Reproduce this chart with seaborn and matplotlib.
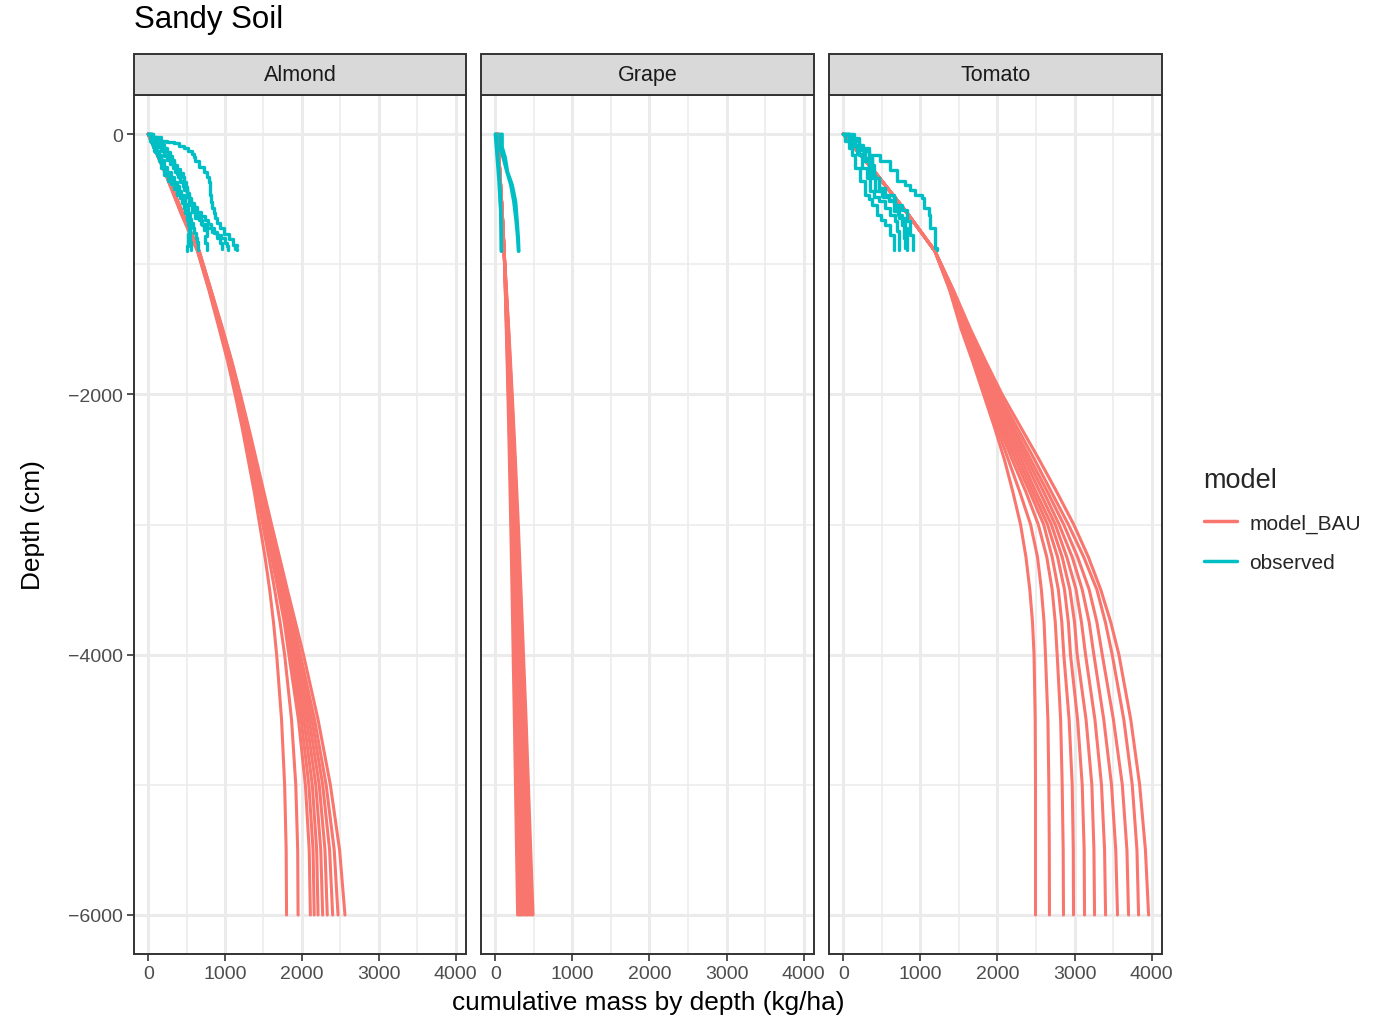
import numpy as np
import pandas as pd
import matplotlib
matplotlib.use("Agg")
import matplotlib.pyplot as plt
import seaborn as sns
from matplotlib.lines import Line2D
from matplotlib.patches import Rectangle

# ---------------- data ----------------
CROPS = ["Almond", "Grape", "Tomato"]
MODEL_DEPTH = [0, -300, -600, -900, -1200, -1500, -1750, -2000, -2250, -2500, -2750,
               -3000, -3250, -3500, -3750, -4000, -4500, -5000, -5500, -6000]

ALMOND_MODEL = [
    [0, 220, 420, 640, 790, 925, 1035, 1130, 1220, 1300, 1380, 1450, 1520, 1580, 1630, 1671, 1735, 1775, 1795, 1800],
    [0, 225, 425, 645, 795, 935, 1045, 1145, 1240, 1325, 1410, 1490, 1570, 1645, 1715, 1775, 1865, 1920, 1945, 1950],
    [0, 225, 430, 650, 800, 940, 1055, 1155, 1250, 1340, 1430, 1515, 1605, 1690, 1770, 1830, 1955, 2045, 2095, 2110],
    [0, 225, 430, 650, 800, 945, 1060, 1160, 1258, 1350, 1440, 1530, 1620, 1705, 1785, 1855, 1990, 2090, 2145, 2160],
    [0, 230, 432, 652, 805, 950, 1065, 1165, 1265, 1360, 1450, 1540, 1635, 1720, 1800, 1880, 2025, 2135, 2192, 2210],
    [0, 230, 435, 655, 808, 955, 1070, 1172, 1272, 1370, 1460, 1552, 1650, 1735, 1820, 1905, 2060, 2180, 2245, 2270],
    [0, 232, 437, 658, 810, 958, 1075, 1178, 1280, 1378, 1470, 1565, 1662, 1752, 1840, 1930, 2095, 2225, 2300, 2330],
    [0, 232, 440, 660, 812, 962, 1080, 1185, 1288, 1386, 1480, 1578, 1676, 1770, 1862, 1955, 2130, 2270, 2360, 2400],
    [0, 235, 442, 662, 815, 965, 1085, 1192, 1296, 1395, 1492, 1590, 1690, 1790, 1885, 1980, 2165, 2315, 2420, 2470],
    [0, 235, 445, 665, 818, 970, 1090, 1200, 1305, 1405, 1505, 1605, 1708, 1810, 1915, 2020, 2210, 2370, 2490, 2560],
]
GRAPE_MODEL = [
    [30, 60, 90, 115, 130, 143, 154, 164, 174, 183, 192, 201, 209, 217, 225, 232, 248, 262, 276, 290],
    [30, 60, 90, 115, 131, 146, 158, 170, 181, 191, 201, 211, 220, 228, 237, 246, 263, 279, 294, 310],
    [30, 60, 90, 115, 132, 149, 162, 175, 187, 199, 210, 220, 230, 240, 250, 259, 278, 296, 313, 330],
    [30, 60, 90, 115, 134, 153, 167, 181, 194, 207, 219, 230, 241, 251, 262, 272, 294, 312, 331, 350],
    [30, 60, 90, 115, 136, 157, 173, 188, 202, 216, 229, 242, 254, 266, 278, 289, 313, 333, 354, 375],
    [30, 60, 90, 115, 138, 161, 178, 195, 211, 226, 241, 255, 268, 280, 293, 306, 332, 354, 377, 400],
    [30, 60, 90, 115, 140, 164, 182, 200, 217, 234, 249, 264, 278, 292, 306, 319, 347, 371, 396, 420],
    [30, 60, 90, 115, 142, 168, 188, 207, 226, 244, 261, 277, 292, 306, 321, 336, 366, 392, 419, 445],
    [30, 60, 90, 115, 144, 172, 193, 214, 234, 253, 271, 289, 305, 321, 337, 353, 385, 413, 442, 470],
    [30, 60, 90, 115, 145, 175, 198, 220, 241, 261, 280, 299, 316, 333, 350, 366, 400, 430, 460, 490],
]
TOMATO_MODEL = [
    [0, 420, 820, 1190, 1380, 1530, 1680, 1820, 1960, 2090, 2200, 2300, 2370, 2420, 2455, 2475, 2490, 2494, 2494, 2494],
    [0, 420, 820, 1190, 1385, 1540, 1695, 1840, 1990, 2140, 2290, 2430, 2520, 2570, 2605, 2623, 2655, 2667, 2673, 2675],
    [0, 420, 820, 1190, 1390, 1550, 1710, 1860, 2020, 2190, 2370, 2530, 2640, 2710, 2750, 2775, 2820, 2840, 2853, 2857],
    [0, 420, 820, 1190, 1395, 1560, 1725, 1880, 2050, 2230, 2420, 2600, 2710, 2790, 2835, 2861, 2930, 2970, 2984, 2987],
    [0, 420, 820, 1190, 1400, 1570, 1740, 1900, 2080, 2270, 2460, 2650, 2780, 2870, 2920, 2948, 3040, 3100, 3125, 3130],
    [0, 420, 820, 1190, 1405, 1580, 1755, 1920, 2110, 2310, 2500, 2700, 2840, 2940, 3000, 3035, 3150, 3225, 3252, 3260],
    [0, 420, 820, 1190, 1410, 1590, 1770, 1945, 2145, 2350, 2550, 2750, 2900, 3020, 3090, 3143, 3265, 3350, 3390, 3403],
    [0, 420, 820, 1190, 1415, 1600, 1785, 1970, 2180, 2390, 2600, 2800, 2970, 3100, 3190, 3251, 3380, 3480, 3535, 3558],
    [0, 420, 820, 1190, 1420, 1610, 1800, 1995, 2210, 2430, 2650, 2860, 3040, 3190, 3290, 3360, 3505, 3620, 3680, 3701],
    [0, 420, 820, 1190, 1425, 1625, 1820, 2025, 2250, 2480, 2700, 2920, 3120, 3290, 3400, 3489, 3640, 3749, 3810, 3831],
    [0, 420, 820, 1190, 1430, 1650, 1850, 2060, 2300, 2540, 2770, 2990, 3180, 3340, 3470, 3576, 3730, 3845, 3920, 3961],
]

ALMOND_OBS_X = [
    [0, 60, 160, 240, 330, 400, 460, 520, 570, 600, 610, 660, 720, 760, 785, 800, 805, 815, 827, 850, 870, 900, 935, 990, 1045, 1100, 1150, 1130, 1160],
    [0, 60, 110, 160, 200, 260, 305, 340, 370, 420, 460, 500, 525, 570, 610, 690, 760, 830, 890, 950, 1000, 1030, 1040],
    [0, 26, 80, 134, 170, 199, 260, 329, 380, 437, 470, 502, 530, 545, 535, 524, 515, 502],
    [0, 50, 90, 120, 160, 200, 250, 300, 340, 380, 400, 430, 460, 480, 500, 520, 540, 560, 580, 600, 620, 640, 654],
    [0, 40, 80, 120, 160, 200, 240, 280, 320, 350, 390, 420, 450, 470, 500, 530, 560, 590, 620, 660, 700, 730, 760, 740, 762],
    [0, 50, 100, 150, 200, 240, 280, 310, 340, 380, 420, 450, 470, 490, 510, 530, 560, 600, 640, 690, 740, 780, 820, 860, 900, 930, 957],
    [0, 40, 65, 90, 125, 160, 195, 230, 265, 300, 340, 380, 410, 440, 460, 480, 500, 520, 530, 540, 550, 560],
]
ALMOND_OBS_D = [
    [0, -20, -50, -60, -70, -90, -110, -130, -150, -180, -210, -250, -290, -330, -365, -410, -465, -520, -570, -610, -645, -680, -720, -770, -810, -850, -860, -880, -890],
    [0, -50, -90, -120, -160, -185, -210, -260, -310, -360, -415, -480, -545, -600, -645, -690, -720, -750, -775, -800, -835, -860, -890],
    [0, -56, -130, -210, -260, -312, -360, -415, -470, -517, -570, -620, -670, -722, -770, -824, -860, -900],
    [0, -80, -120, -160, -200, -250, -290, -330, -370, -400, -440, -470, -500, -540, -570, -610, -650, -680, -720, -760, -800, -830, -890],
    [0, -30, -60, -100, -130, -170, -200, -230, -260, -290, -330, -370, -400, -430, -470, -500, -540, -580, -620, -660, -700, -740, -780, -840, -890],
    [0, -20, -40, -80, -110, -140, -170, -200, -240, -270, -300, -330, -370, -410, -450, -490, -530, -560, -600, -630, -660, -690, -720, -760, -800, -840, -880],
    [0, -60, -100, -140, -180, -220, -260, -300, -340, -380, -420, -450, -490, -530, -570, -610, -660, -700, -740, -780, -830, -890],
]
GRAPE_OBS_X = [
    [0, 20, 45, 60, 70, 75, 78],
    [90, 90, 130, 160, 220, 265, 285, 300, 307],
    [10, 25, 50, 65, 72, 78, 80],
    [60, 70, 110, 150, 200, 240, 270, 290, 300],
]
GRAPE_OBS_D = [
    [0, -150, -340, -500, -600, -750, -900],
    [0, -100, -180, -290, -390, -520, -670, -800, -900],
    [0, -120, -300, -450, -600, -750, -900],
    [0, -120, -200, -290, -390, -520, -670, -800, -900],
]
TOMATO_OBS_X = [
    [0, 69, 199, 329, 459, 481, 589, 610, 697, 697, 805, 870, 935, 1022, 1043, 1108, 1130, 1195, 1195, 1210],
    [0, 80, 156, 250, 329, 372, 394, 459, 545, 654, 675, 719, 762, 784, 805],
    [0, 26, 70, 112, 156, 221, 286, 330, 372, 437, 490, 545, 610, 654, 654],
    [0, 69, 130, 199, 243, 308, 351, 400, 459, 545, 610, 675, 697, 719, 727],
    [0, 90, 180, 264, 329, 416, 502, 589, 654, 710, 762, 805, 827, 827],
    [0, 134, 210, 286, 372, 459, 520, 589, 675, 762, 827, 870, 900],
]
TOMATO_OBS_D = [
    [0, -31, -108, -159, -159, -210, -210, -274, -274, -364, -389, -430, -466, -492, -568, -620, -722, -799, -876, -890],
    [0, -40, -82, -130, -171, -236, -338, -415, -466, -492, -568, -645, -696, -799, -876],
    [0, -56, -110, -159, -261, -364, -466, -500, -543, -620, -660, -696, -773, -824, -888],
    [0, -18, -90, -159, -261, -338, -440, -480, -517, -568, -620, -671, -747, -824, -888],
    [0, -90, -150, -210, -312, -440, -479, -517, -594, -620, -645, -722, -824, -888],
    [0, -56, -120, -184, -338, -440, -480, -504, -543, -581, -671, -773, -888],
]

X_TICKS = [0, 1000, 2000, 3000, 4000]
Y_TICKS = [0, -2000, -4000, -6000]
Y_TICK_LABELS = ["0", "\u22122000", "\u22124000", "\u22126000"]
LEGEND_LABELS = ["model_BAU", "observed"]

RED = "#F8766D"
TEAL = "#00BFC4"

# ---------------- build long tables ----------------
def model_frame(curves):
    rows = []
    for i, xs in enumerate(curves):
        for x, d in zip(xs, MODEL_DEPTH):
            rows.append({"x": x, "depth": d, "unit": i, "model": "model_BAU"})
    return pd.DataFrame(rows)

def obs_frame(xs_list, ds_list):
    rows = []
    for i, (xs, ds) in enumerate(zip(xs_list, ds_list)):
        for x, d in zip(xs, ds):
            rows.append({"x": x, "depth": d, "unit": i, "model": "observed"})
    return pd.DataFrame(rows)

model_frames = {
    "Almond": model_frame(ALMOND_MODEL),
    "Grape": model_frame(GRAPE_MODEL),
    "Tomato": model_frame(TOMATO_MODEL),
}
obs_frames = {
    "Almond": obs_frame(ALMOND_OBS_X, ALMOND_OBS_D),
    "Grape": obs_frame(GRAPE_OBS_X, GRAPE_OBS_D),
    "Tomato": obs_frame(TOMATO_OBS_X, TOMATO_OBS_D),
}
obs_style = {"Almond": "steps-post", "Grape": "default", "Tomato": "steps-post"}

# ---------------- figure ----------------
sns.set_theme(style="white")
plt.rcParams["font.family"] = ["Liberation Sans", "DejaVu Sans"]

W, H = 1380, 1020
fig = plt.figure(figsize=(W / 100, H / 100), dpi=100)

panel_px = [(134, 466), (481, 814), (829, 1162)]
top_px, bot_px = 96, 955
strip_top = 55

GRID_MAJ = "#EBEBEB"
DARK = "#333333"

for k, crop in enumerate(CROPS):
    l, r = panel_px[k]
    ax = fig.add_axes([l / W, 1 - bot_px / H, (r - l) / W, (bot_px - top_px) / H])
    ax.set_xlim(-185, 4135)
    ax.set_ylim(-6300, 300)
    ax.set_xticks(X_TICKS)
    ax.set_xticks([500, 1500, 2500, 3500], minor=True)
    ax.set_yticks(Y_TICKS)
    ax.set_yticks([-1000, -3000, -5000], minor=True)
    ax.grid(True, which="major", color=GRID_MAJ, lw=2.2)
    ax.grid(True, which="minor", color=GRID_MAJ, lw=1.1)
    ax.set_axisbelow(True)

    sns.lineplot(data=model_frames[crop], x="x", y="depth", units="unit",
                 estimator=None, sort=False, color=RED, lw=2.2, ax=ax,
                 legend=False)
    sns.lineplot(data=obs_frames[crop], x="x", y="depth", units="unit",
                 estimator=None, sort=False, color=TEAL, lw=2.4, ax=ax,
                 legend=False, drawstyle=obs_style[crop])

    ax.set_xlabel("")
    ax.set_ylabel("")
    ax.set_xticklabels([str(t) for t in X_TICKS])
    if k == 0:
        ax.set_yticklabels(Y_TICK_LABELS)
        ax.tick_params(axis="y", which="major", length=5, width=1.2,
                       color=DARK, labelsize=14, labelcolor="#4D4D4D", pad=3,
                       left=True)
    else:
        ax.tick_params(axis="y", which="both", left=False, labelleft=False)
    ax.tick_params(axis="x", which="major", length=5, width=1.2, color=DARK,
                   labelsize=14, labelcolor="#4D4D4D", pad=3, bottom=True)
    ax.tick_params(which="minor", length=0)
    for s in ax.spines.values():
        s.set_color(DARK)
        s.set_linewidth(1.4)

    # strip
    fig.patches.append(Rectangle((l / W, 1 - top_px / H), (r - l) / W,
                                 (top_px - strip_top) / H,
                                 transform=fig.transFigure, facecolor="#D9D9D9",
                                 edgecolor=DARK, lw=1.4, zorder=0))
    fig.text((l + r) / 2 / W, 1 - (top_px + strip_top) / 2 / H, crop,
             ha="center", va="center", fontsize=15.5, color="#1A1A1A")

fig.text(648 / W, 1 - 1003 / H, "cumulative mass by depth (kg/ha)",
         ha="center", va="center", fontsize=18.9, color="black")
fig.text(33 / W, 1 - 525 / H, "Depth (cm)", ha="center", va="center",
         rotation=90, fontsize=18.9, color="black")
fig.text(134 / W, 1 - 20 / H, "Sandy Soil", ha="left", va="center",
         fontsize=22.5, color="black")

handles = [Line2D([0], [0], color=RED, lw=2.5),
           Line2D([0], [0], color=TEAL, lw=2.5)]
leg = fig.legend(handles, LEGEND_LABELS, title="model", loc="upper left",
                 bbox_to_anchor=(1189 / W, 1 - 453 / H), frameon=False,
                 fontsize=15, title_fontsize=19.5, handlelength=1.6,
                 labelspacing=1.0, handletextpad=0.6, borderpad=0.2)
leg._legend_box.align = "left"

fig.savefig("out.png", dpi=100, facecolor="white")
